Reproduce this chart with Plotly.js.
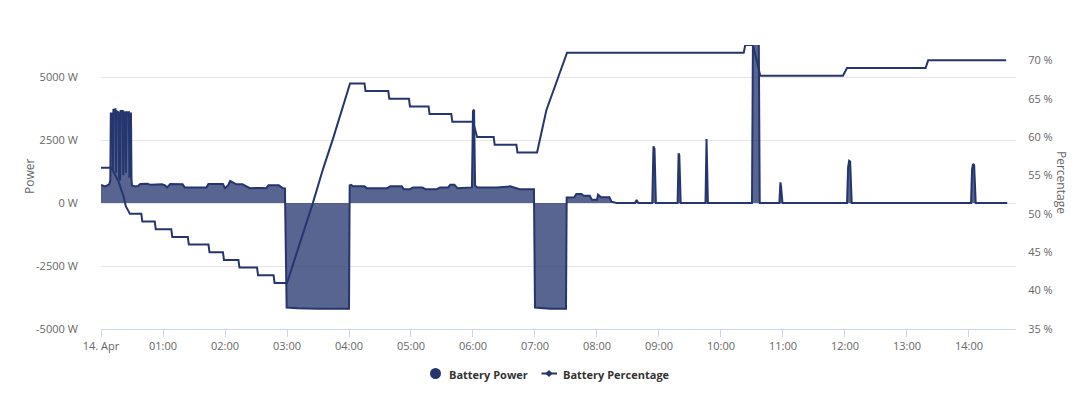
<!DOCTYPE html>
<html>
<head>
<meta charset="utf-8">
<script src="https://cdn.plot.ly/plotly-3.0.1.min.js"></script>
<style>html,body{margin:0;padding:0;background:#fff;}#chart{width:1090px;height:404px;}</style>
</head>
<body>
<div id="chart"></div>
<script>
const DAY = '2024-04-14 ';

const powerTimes = [
  '00:00','00:02','00:04','00:06','00:08','00:09:00','00:09:30','00:11:00','00:11:30','00:12:00',
  '00:14:00','00:14:30','00:15:00','00:17:00','00:17:30','00:18:30','00:19:00','00:21:00','00:21:30','00:22:00',
  '00:23:30','00:24:00','00:25:00','00:27:00','00:27:30','00:28:00','00:29:00','00:29:30','00:30','00:33',
  '00:36','00:38','00:42','00:45','00:48','00:52','00:54','00:59','01:02','01:04',
  '01:07','01:12','01:19','01:21','01:30','01:42','01:44','01:50','01:58','02:00',
  '02:03','02:05','02:08','02:11','02:17','02:24','02:35','02:40','02:42','02:52',
  '02:56','02:58','02:59:40','03:10','03:30','03:50','04:00:00','04:00:40','04:02','04:04',
  '04:15','04:17','04:37','04:40','04:51','04:53','04:59','05:02','05:11','05:14',
  '05:25','05:28','05:36','05:38','05:42','05:45','05:57','05:59','06:00','06:01',
  '06:02','06:04','06:19','06:23','06:36','06:45','06:59','07:00:00','07:15','07:30',
  '07:30:40','07:38','07:40','07:45','07:47','07:53','07:55','08:00','08:01','08:04',
  '08:12','08:14','08:19','08:37','08:38:20','08:40','08:53:30','08:54:40','08:55:40','08:57',
  '09:18','09:19','09:19:40','09:21','09:45','09:46','09:47:20','10:30','10:31','10:36:30',
  '10:37:30','10:56:30','10:57:30','10:58','10:59:30','12:02','12:03','12:04','12:05','12:06:30',
  '14:02','14:03','14:04','14:05','14:06:30','14:37'
];
const powerValues = [
  720,700,660,700,740,900,3550,3550,1300,3700,
  3720,1200,3650,3600,1000,900,3650,3650,1100,3600,
  3600,1200,3600,3600,1000,3550,3550,950,700,660,
  680,750,740,760,720,730,740,740,700,620,
  750,750,740,620,630,620,750,740,750,590,
  700,880,820,740,740,590,600,590,700,700,
  590,580,-4150,-4180,-4200,-4200,-4200,700,720,660,
  660,590,590,660,660,550,550,620,620,550,
  550,620,620,720,720,590,590,620,3650,3700,
  700,620,620,620,660,550,550,-4150,-4200,-4200,
  220,225,357,357,290,290,130,130,330,225,
  225,53,0,0,120,0,0,2250,2150,0,
  0,1970,1900,0,0,2540,0,0,7000,7000,
  0,0,820,700,0,0,1410,1680,1650,0,
  0,1350,1550,1500,0,0
];

const pctTimes = [
  '00:00','00:10','00:17','00:22','00:24','00:28','00:39','00:40','00:52','00:53',
  '01:08','01:09','01:24','01:25','01:44','01:45','01:58','01:59','02:13','02:14',
  '02:31','02:32','02:47','02:48','03:00','03:25','03:35','03:45','04:01','04:15',
  '04:16','04:38','04:39','04:58','04:59','05:17','05:18','05:39','05:40','06:00',
  '06:04','06:20','06:21','06:42','06:43','07:02','07:11','07:24','07:31','10:22',
  '10:23:30','10:31','10:38','11:58','12:02','13:18','13:20:30','14:36'
];
const pctValues = [
  56,56,54.2,52.2,51,50,50,49,49,48,
  48,47,47,46,46,45,45,44,44,43,
  43,42,42,41,41,51.4,55.9,60,67,67,
  66,66,65,65,64,64,63,63,62,62,
  60,60,59,59,58,58,63.5,68.5,71,71,
  72,72,68,68,69,69,70,70
];

const xTickVals = ['00:00','01:00','02:00','03:00','04:00','05:00','06:00','07:00','08:00','09:00','10:00','11:00','12:00','13:00','14:00'];
const xTickText = ['14. Apr','01:00','02:00','03:00','04:00','05:00','06:00','07:00','08:00','09:00','10:00','11:00','12:00','13:00','14:00'];
const powerTicks = [-5000,-2500,0,2500,5000];
const pctTicks = [35,40,45,50,55,60,65,70];
const legendNames = ['Battery Power','Battery Percentage'];

const navy = '#25356e';
const FONT = '"Open Sans", sans-serif';
const tickFont = {family:FONT, size:11, color:'#666666'};

// pixel helpers for legend / titles placed outside the plot area
const PL = 101, PR = 1016, PT = 45, PB = 329;
const px = v => (v - PL) / (PR - PL);
const py = v => (PB - v) / (PB - PT);

const traces = [
  {
    x: powerTimes.map(t => DAY + t), y: powerValues, type:'scatter', mode:'lines',
    line:{color:navy, width:2}, fill:'tozeroy', fillcolor:'rgba(37,53,110,0.76)',
    showlegend:false, yaxis:'y', hoverinfo:'skip'
  },
  {
    x: pctTimes.map(t => DAY + t), y: pctValues, type:'scatter', mode:'lines',
    line:{color:navy, width:2}, showlegend:false, yaxis:'y2', hoverinfo:'skip'
  }
];

const dcx = 549, dcy = 373.5, dr = 3.6;
const layout = {
  width:1090, height:404,
  margin:{l:PL, r:1090-PR, t:PT, b:404-PB},
  paper_bgcolor:'#ffffff', plot_bgcolor:'#ffffff',
  font:{family:FONT, color:'#333333'},
  showlegend:false,
  xaxis:{
    type:'date',
    range:[DAY+'00:00', DAY+'14:45:30'],
    tickmode:'array', tickvals: xTickVals.map(t => DAY + t), ticktext: xTickText,
    ticks:'outside', ticklen:7, tickcolor:'#ccd6eb', tickwidth:1,
    showline:true, linecolor:'#ccd6eb', linewidth:1,
    showgrid:false, zeroline:false, tickfont:tickFont
  },
  yaxis:{
    range:[-5000, 6270],
    tickmode:'array', tickvals: powerTicks, ticktext: powerTicks.map(v => v + ' W'),
    ticks:'outside', ticklen:20, tickcolor:'rgba(0,0,0,0)',
    showgrid:true, gridcolor:'#e6e6e6', gridwidth:1, zeroline:false, showline:false,
    tickfont:tickFont
  },
  yaxis2:{
    range:[35, 72], overlaying:'y', side:'right',
    tickmode:'array', tickvals: pctTicks, ticktext: pctTicks.map(v => v + ' %'),
    ticks:'outside', ticklen:9, tickcolor:'rgba(0,0,0,0)',
    showgrid:false, zeroline:false, showline:false, tickfont:tickFont
  },
  shapes:[
    {type:'circle', xref:'paper', yref:'paper', x0:px(430), x1:px(441), y0:py(379), y1:py(368),
     fillcolor:navy, line:{width:0}},
    {type:'line', xref:'paper', yref:'paper', x0:px(541.5), x1:px(557), y0:py(dcy), y1:py(dcy),
     line:{color:navy, width:2}},
    {type:'path', xref:'paper', yref:'paper',
     path:`M ${px(dcx)} ${py(dcy-dr)} L ${px(dcx+dr)} ${py(dcy)} L ${px(dcx)} ${py(dcy+dr)} L ${px(dcx-dr)} ${py(dcy)} Z`,
     fillcolor:navy, line:{width:0}}
  ],
  annotations:[
    {text:legendNames[0], xref:'paper', yref:'paper', x:px(447), y:py(374), xanchor:'left', yanchor:'middle',
     showarrow:false, font:{family:FONT, size:11, color:'#333333', weight:'bold'}},
    {text:legendNames[1], xref:'paper', yref:'paper', x:px(561), y:py(374), xanchor:'left', yanchor:'middle',
     showarrow:false, font:{family:FONT, size:11, color:'#333333', weight:'bold'}},
    {text:'Power', xref:'paper', yref:'paper', x:px(29), y:py(177), xanchor:'center', yanchor:'middle',
     textangle:-90, showarrow:false, font:{family:FONT, size:12, color:'#666666'}},
    {text:'Percentage', xref:'paper', yref:'paper', x:px(1062), y:py(182), xanchor:'center', yanchor:'middle',
     textangle:90, showarrow:false, font:{family:FONT, size:12, color:'#666666'}}
  ]
};

Plotly.newPlot('chart', traces, layout, {displayModeBar:false, staticPlot:true});
</script>
</body>
</html>
